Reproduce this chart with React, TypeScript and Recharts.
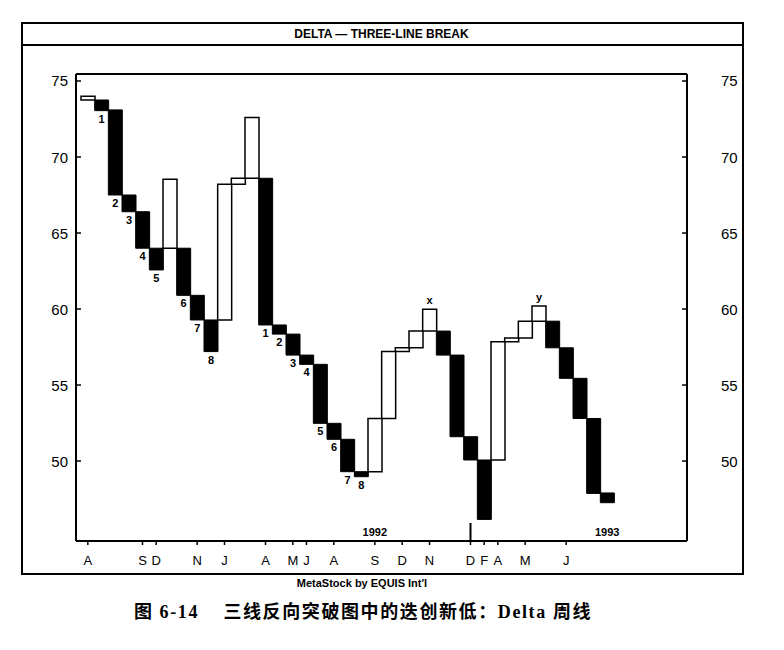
import React from "react"
import { Bar, Cell, ComposedChart, LabelList, XAxis, YAxis } from "recharts"

// three-line break bricks, left to right (weekly, Delta, 1991-1993)
const brickLow = [
  73.75, 73.05, 67.5, 66.4, 64.0, 62.57, 64.0, 60.9, 59.28, 57.2, 59.28, 68.2, 68.6, 58.95, 58.35, 56.97, 56.36,
  52.48, 51.43, 49.3, 48.97, 49.3, 52.8, 57.2, 57.45, 58.55, 56.97, 51.6, 50.07, 46.16, 50.07, 57.85, 58.1, 59.2,
  57.45, 55.44, 52.8, 47.87, 47.26,
]
const brickHigh = [
  74.0, 73.75, 73.1, 67.5, 66.4, 64.0, 68.53, 64.0, 60.9, 59.28, 68.2, 68.6, 72.6, 68.6, 58.95, 58.35, 56.97, 56.36,
  52.48, 51.43, 49.3, 52.8, 57.2, 57.45, 58.55, 59.98, 58.55, 56.97, 51.6, 50.07, 57.85, 58.1, 59.2, 60.2, 59.2,
  57.45, 55.44, 52.8, 47.9,
]
const brickDir = [
  "up", "down", "down", "down", "down", "down", "up", "down", "down", "down", "up", "up", "up", "down", "down",
  "down", "down", "down", "down", "down", "down", "up", "up", "up", "up", "up", "down", "down", "down", "down",
  "up", "up", "up", "up", "down", "down", "down", "down", "down",
]
const brickMark = [
  "", "1", "2", "3", "4", "5", "", "6", "7", "8", "", "", "", "1", "2", "3", "4", "5", "6", "7", "8", "", "", "",
  "", "x", "", "", "", "", "", "", "", "y", "", "", "", "", "",
]

const monthIdx = [0, 4, 5, 8, 10, 13, 15, 16, 18, 21, 23, 25, 28, 29, 30, 32, 35]
const monthLetters = ["A", "S", "D", "N", "J", "A", "M", "J", "A", "S", "D", "N", "D", "F", "A", "M", "J"]
const yearIdx = [21, 38]
const yearLabels = ["1992", "1993"]
const yearBreakIdx = 28

const priceTicks = [50, 55, 60, 65, 70, 75]

const data = brickLow.map((lo, i) => ({ idx: i, range: [lo, brickHigh[i]], mark: brickMark[i] }))

const narrow = "'Liberation Sans Narrow', 'Liberation Sans', Arial, sans-serif"
const sans = "'Liberation Sans', Arial, sans-serif"

function LeftTick({ x, y, payload }: any) {
  return (
    <g>
      <line x1={x} x2={x + 5} y1={y} y2={y} stroke="#000" strokeWidth={1.5} />
      <text x={x - 8} y={y} textAnchor="end" dominantBaseline="central" fontFamily={narrow} fontSize={15} fill="#000">
        {payload.value}
      </text>
    </g>
  )
}

function RightTick({ x, y, payload }: any) {
  return (
    <g>
      <line x1={x - 5} x2={x} y1={y} y2={y} stroke="#000" strokeWidth={1.5} />
      <text x={x + 34} y={y} textAnchor="start" dominantBaseline="central" fontFamily={narrow} fontSize={15} fill="#000">
        {payload.value}
      </text>
    </g>
  )
}

function MonthTick({ x, y, payload }: any) {
  const i = payload.value
  const m = monthIdx.indexOf(i)
  const yr = yearIdx.indexOf(i)
  return (
    <g>
      {m >= 0 && <line x1={x} x2={x} y1={y} y2={y + 4} stroke="#000" strokeWidth={1.5} />}
      {m >= 0 && (
        <text x={x} y={y + 19} textAnchor="middle" dominantBaseline="central" fontFamily={narrow} fontSize={13} fill="#000">
          {monthLetters[m]}
        </text>
      )}
      {i === yearBreakIdx && <line x1={x} x2={x} y1={y - 18} y2={y} stroke="#000" strokeWidth={2} />}
      {yr >= 0 && (
        <text x={x} y={y - 9} textAnchor="middle" dominantBaseline="central" fontFamily={sans} fontWeight="bold" fontSize={11} fill="#000">
          {yearLabels[yr]}
        </text>
      )}
    </g>
  )
}

function BrickMark(props: any) {
  const { x, y, width, height, value, index } = props
  if (!value) return null
  const top = Math.min(y, y + height)
  const bottom = Math.max(y, y + height)
  const above = index != null ? brickDir[index] === "up" : !/\d/.test(String(value))
  return (
    <text
      x={x + width / 2}
      y={above ? top - 9 : bottom + 8}
      textAnchor="middle"
      dominantBaseline="central"
      fontFamily={sans}
      fontWeight="bold"
      fontSize={11}
      fill="#000"
    >
      {value}
    </text>
  )
}

export default function App() {
  return (
    <div style={{ position: "absolute", left: 0, top: 0, width: 784, height: 650, background: "#fff" }}>
      {/* outer frame with title strip */}
      <div
        style={{
          position: "absolute",
          left: 21,
          top: 22,
          width: 719,
          height: 549,
          border: "2px solid #000",
        }}
      />
      <div style={{ position: "absolute", left: 21, top: 44, width: 721, height: 2, background: "#000" }} />
      <div
        style={{
          position: "absolute",
          left: 21,
          top: 24,
          width: 721,
          height: 20,
          lineHeight: "20px",
          textAlign: "center",
          fontFamily: sans,
          fontWeight: "bold",
          fontSize: 12,
          color: "#000",
        }}
      >
        DELTA — THREE-LINE BREAK
      </div>

      <div style={{ position: "absolute", left: 0, top: 0 }}>
        <ComposedChart
          width={784}
          height={650}
          data={data}
          margin={{ top: 73, right: 37, bottom: 79, left: 26 }}
          barCategoryGap={0}
          barGap={0}
        >
          <XAxis
            xAxisId="top"
            orientation="top"
            dataKey="idx"
            height={1}
            tick={false}
            tickLine={false}
            axisLine={{ stroke: "#000", strokeWidth: 2 }}
            padding={{ left: 5, right: 73 }}
          />
          <XAxis
            dataKey="idx"
            height={30}
            ticks={[...monthIdx, ...yearIdx.filter((i) => !monthIdx.includes(i))]}
            interval={0}
            tick={<MonthTick />}
            tickLine={false}
            tickSize={0}
            tickMargin={0}
            axisLine={{ stroke: "#000", strokeWidth: 2 }}
            padding={{ left: 5, right: 73 }}
          />
          <YAxis
            yAxisId="left"
            type="number"
            domain={[44.74, 75.46]}
            ticks={priceTicks}
            width={50}
            tick={<LeftTick />}
            tickLine={false}
            tickSize={0}
            tickMargin={0}
            axisLine={{ stroke: "#000", strokeWidth: 2 }}
            allowDataOverflow
          />
          <YAxis
            yAxisId="right"
            orientation="right"
            type="number"
            domain={[44.74, 75.46]}
            ticks={priceTicks}
            width={60}
            tick={<RightTick />}
            tickLine={false}
            tickSize={0}
            tickMargin={0}
            axisLine={{ stroke: "#000", strokeWidth: 2 }}
            allowDataOverflow
          />
          <Bar dataKey="range" yAxisId="left" isAnimationActive={false}>
            {data.map((d, i) => (
              <Cell
                key={i}
                fill={brickDir[i] === "up" ? "#fff" : "#000"}
                stroke="#000"
                strokeWidth={brickDir[i] === "up" ? 1.5 : 1}
              />
            ))}
            <LabelList dataKey="mark" content={<BrickMark />} />
          </Bar>
        </ComposedChart>
      </div>

      <div
        style={{
          position: "absolute",
          left: 0,
          width: 724,
          top: 577,
          textAlign: "center",
          fontFamily: sans,
          fontWeight: "bold",
          fontSize: 11,
          color: "#000",
        }}
      >
        MetaStock by EQUIS Int'l
      </div>
      <div
        style={{
          position: "absolute",
          left: 0,
          width: 726,
          top: 597,
          textAlign: "center",
          whiteSpace: "pre",
          fontFamily: "'Liberation Serif', 'Noto Sans CJK SC', serif",
          fontWeight: "bold",
          fontSize: 18,
          letterSpacing: 1.6,
          color: "#000",
        }}
      >
        图 6-14    三线反向突破图中的迭创新低：Delta 周线
      </div>
    </div>
  )
}
